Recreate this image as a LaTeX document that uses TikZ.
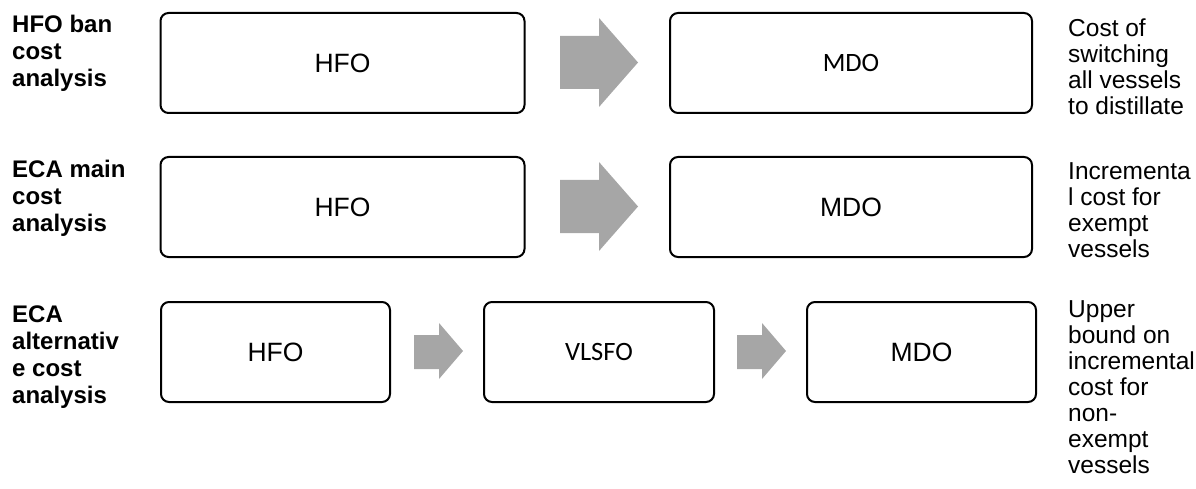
\documentclass[tikz,border=0pt]{standalone}
\usepackage{fontspec}
\setmainfont{Liberation Sans}
\newfontfamily\calib{Carlito}
\begin{document}
\begin{tikzpicture}[x=1pt,y=-1pt,
  fuelbox/.style={draw=black,line width=2pt,rounded corners=8pt,inner sep=0pt,
     font=\fontsize{26.5}{29}\selectfont},
  calibtext/.style={font=\calib\fontsize{26.5}{29}\selectfont},
  rowlabel/.style={anchor=north west,inner sep=0pt,align=left,
     font=\bfseries\fontsize{24}{27}\selectfont},
  resultlabel/.style={anchor=north west,inner sep=0pt,align=left,
     font=\fontsize{24.5}{26}\selectfont},
  blockarrow/.style={fill=arrowgray,draw=none}]
\definecolor{arrowgray}{HTML}{A6A6A6}
\useasboundingbox (0,0) rectangle (1196,489);

% Row 1
\node[fuelbox,minimum width=364,minimum height=100] (h1) at (342.5,63) {HFO};
\node[fuelbox,calibtext,minimum width=362,minimum height=100] (m1) at (851,63) {MDO};
\fill[blockarrow] (560,36) -- (599,36) -- (599,18) -- (638,62.5) -- (599,107) -- (599,89) -- (560,89) -- cycle;
\node[rowlabel] (l1) at (12,15) {HFO ban\\cost\\analysis};
\node[resultlabel] (r1) at (1068,19) {Cost of\\switching\\all vessels\\to distillate};

% Row 2
\node[fuelbox,minimum width=364,minimum height=100] (h2) at (342.5,207) {HFO};
\node[fuelbox,minimum width=362,minimum height=100] (m2) at (851,207) {MDO};
\fill[blockarrow] (560,180) -- (599,180) -- (599,162) -- (638,206.5) -- (599,251) -- (599,233) -- (560,233) -- cycle;
\node[rowlabel] (l2) at (12,160) {ECA main\\cost\\analysis};
\node[resultlabel] (r2) at (1068,162) {Incrementa\\l cost for\\exempt\\vessels};

% Row 3
\node[fuelbox,minimum width=229,minimum height=100] (h3) at (275.5,352) {HFO};
\node[fuelbox,calibtext,minimum width=230,minimum height=100] (v3) at (599,352) {VLSFO};
\node[fuelbox,minimum width=229,minimum height=100] (m3) at (921.5,352) {MDO};
\fill[blockarrow] (414,335) -- (439,335) -- (439,323) -- (463,351) -- (439,379) -- (439,369) -- (414,369) -- cycle;
\fill[blockarrow] (737,335) -- (762,335) -- (762,323) -- (786,351) -- (762,379) -- (762,369) -- (737,369) -- cycle;
\node[rowlabel] (l3) at (12,306) {ECA\\alternativ\\e cost\\analysis};
\node[resultlabel] (r3) at (1068,300) {Upper\\bound on\\incremental\\cost for\\non-\\exempt\\vessels};
\end{tikzpicture}
\end{document}
